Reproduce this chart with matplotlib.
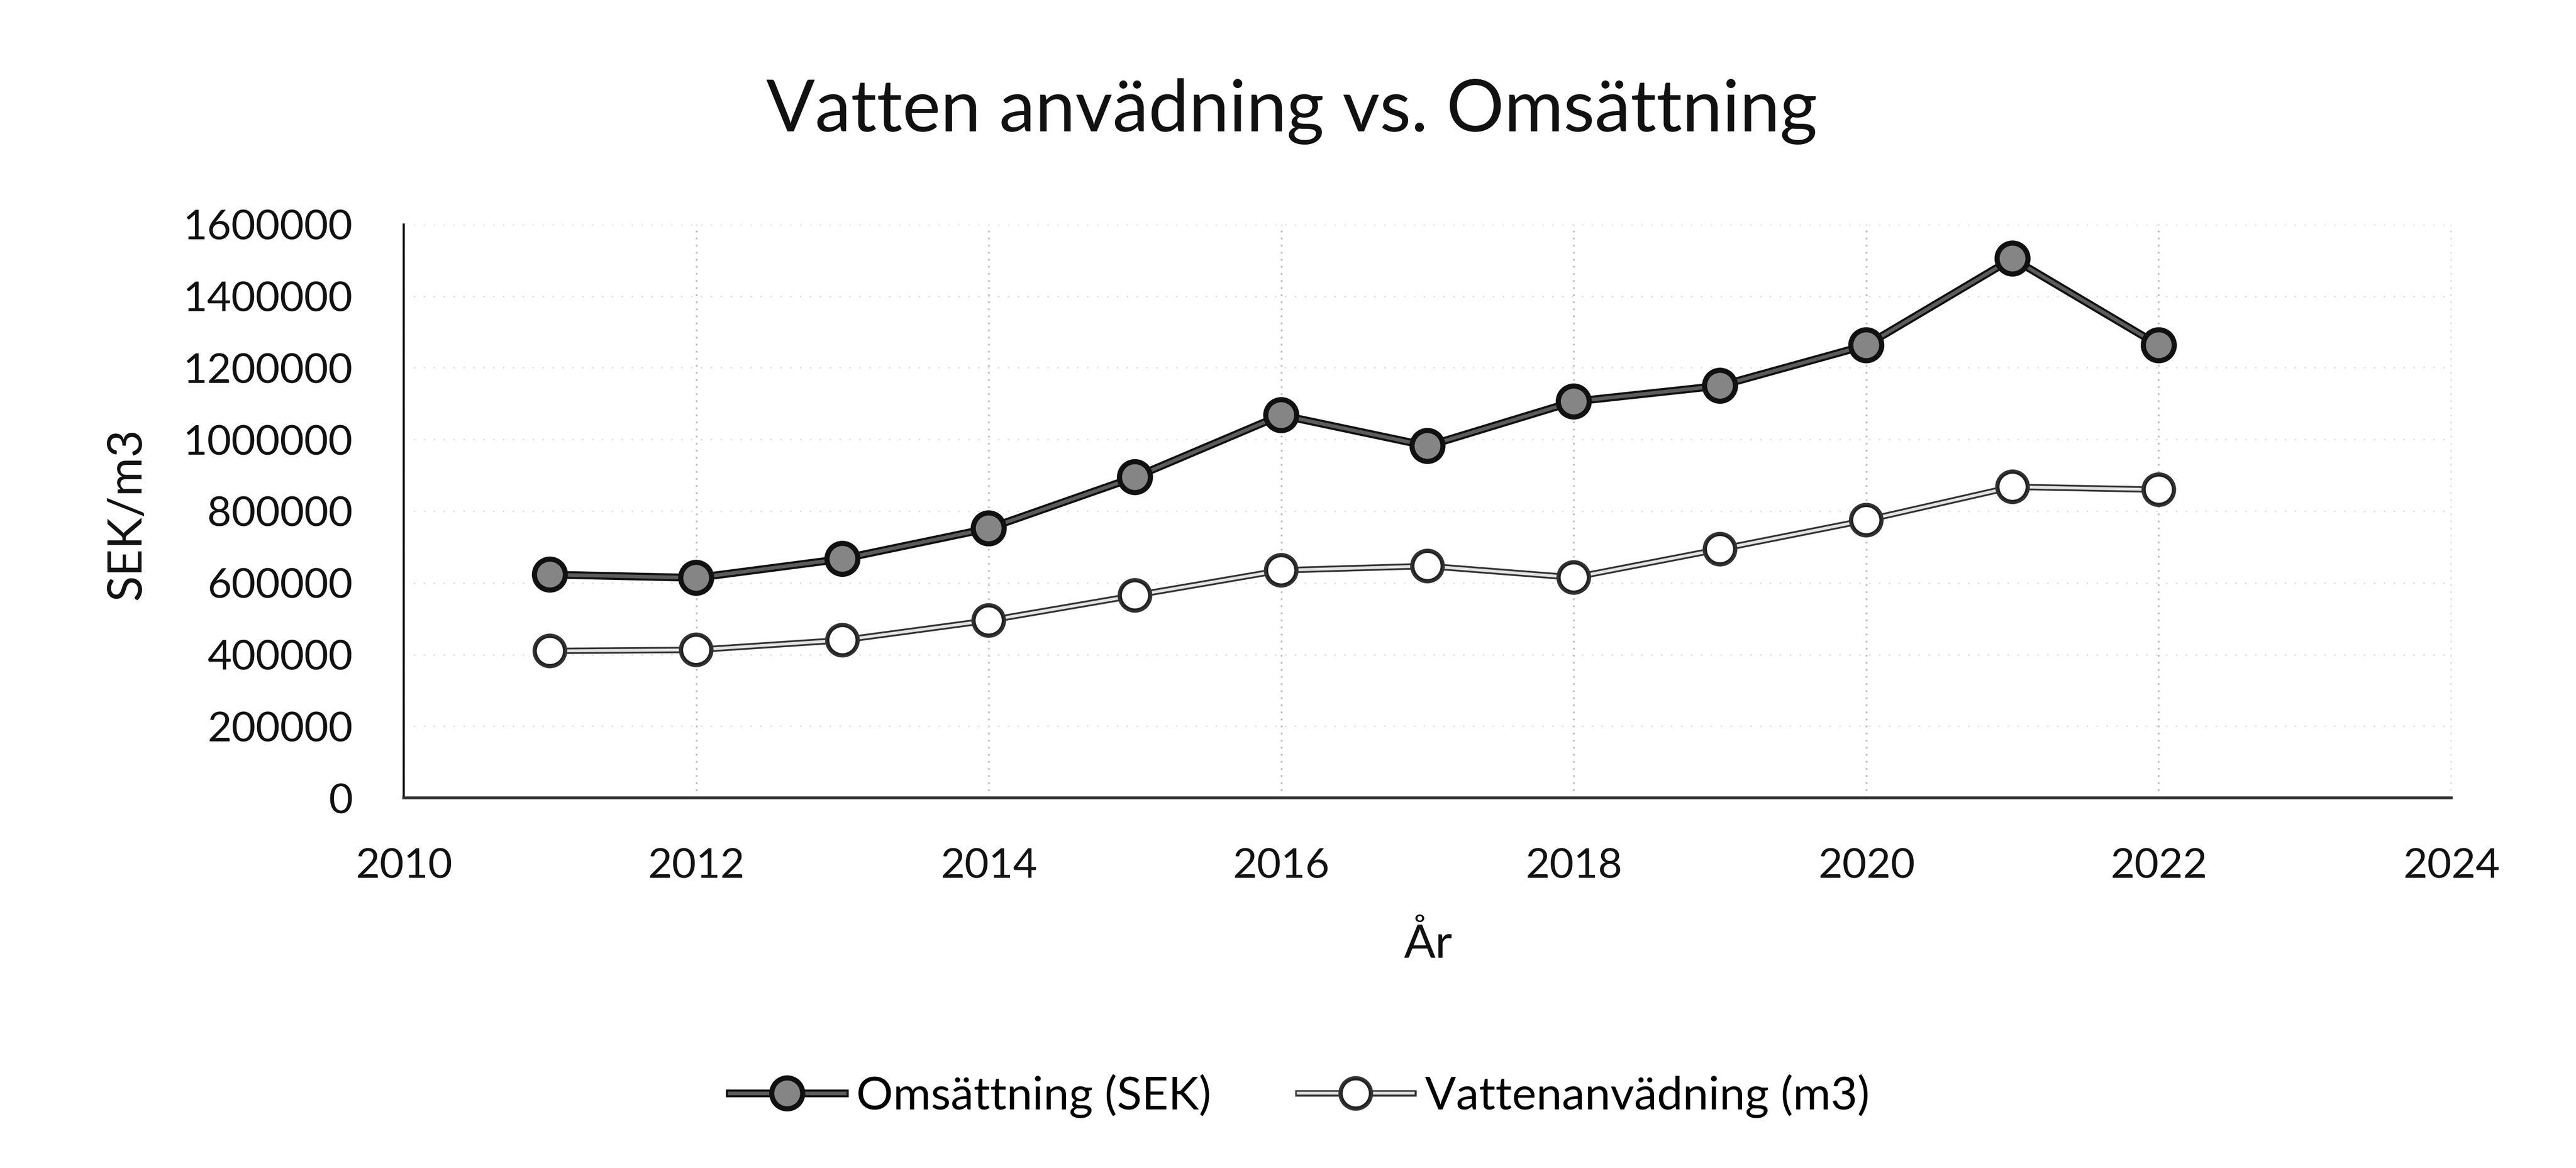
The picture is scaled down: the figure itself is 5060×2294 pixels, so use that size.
import matplotlib
matplotlib.use("Agg")
import matplotlib.pyplot as plt
import matplotlib.patheffects as pe

# values
years = [2011, 2012, 2013, 2014, 2015, 2016, 2017, 2018, 2019, 2020, 2021, 2022]
omsattning = [623000, 614000, 667000, 752000, 895000, 1068000, 982000,
              1106000, 1150000, 1263000, 1505000, 1263000]
vatten = [410000, 413000, 440000, 495000, 565000, 635000, 647000,
          615000, 694000, 775000, 868000, 860000]

x_ticks = list(range(2010, 2025, 2))
y_ticks = list(range(0, 1600001, 200000))

title = "Vatten anvädning vs. Omsättning"
label_oms = "Omsättning (SEK)"
label_vat = "Vattenanvädning (m3)"

plt.rcParams['font.family'] = ['Lato', 'DejaVu Sans']

fig = plt.figure(figsize=(50.6, 22.94), dpi=100)
ax = fig.add_axes([0.1567, 0.3169, 0.7949, 0.4909])

ax.plot(years, omsattning, color='#5c5c5c', lw=5, marker='o', ms=40,
        mfc='#858585', mec='#111111', mew=3.5, label=label_oms,
        path_effects=[pe.Stroke(linewidth=11, foreground='#111111'), pe.Normal()],
        zorder=4)
ax.plot(years, vatten, color='#e3e3e3', lw=4, marker='o', ms=40,
        mfc='white', mec='#222222', mew=3.0, label=label_vat,
        path_effects=[pe.Stroke(linewidth=9, foreground='#333333'), pe.Normal()],
        zorder=3)

ax.set_xlim(2010, 2024)
ax.set_ylim(0, 1600000)
ax.set_xticks(x_ticks)
ax.set_yticks(y_ticks)
ax.set_xticklabels([str(t) for t in x_ticks])
ax.set_yticklabels([str(t) for t in y_ticks])
ax.tick_params(axis='both', length=0, labelsize=59, colors='#111111')
ax.tick_params(axis='x', pad=70)
ax.tick_params(axis='y', pad=72)

# faint scanned-looking gridlines
ax.grid(axis='x', color='#bdbdbd', ls=(0, (1, 3)), lw=2.5)
ax.grid(axis='y', color='#dddddd', ls=(0, (1, 6)), lw=2)
ax.set_axisbelow(True)

for s in ['top', 'right']:
    ax.spines[s].set_visible(False)
ax.spines['left'].set_color('#111111')
ax.spines['left'].set_linewidth(3)
ax.spines['bottom'].set_color('#333333')
ax.spines['bottom'].set_linewidth(4)

fig.text(0.5015, 0.9045, title, fontsize=102, ha='center', va='center', color='#111111')
fig.text(0.0494, 0.560, "SEK/m3", fontsize=67, rotation=90, ha='center', va='center',
         color='#111111')
fig.text(0.5545, 0.1918, "År", fontsize=66, ha='center', va='center', color='#111111')

fig.legend(loc='center', bbox_to_anchor=(0.5045, 0.0615), ncol=2, frameon=False,
           fontsize=65, handlelength=2.5, handletextpad=0.25, columnspacing=1.9,
           markerscale=1.0)

fig.savefig("out.png", dpi=100, facecolor='white')
